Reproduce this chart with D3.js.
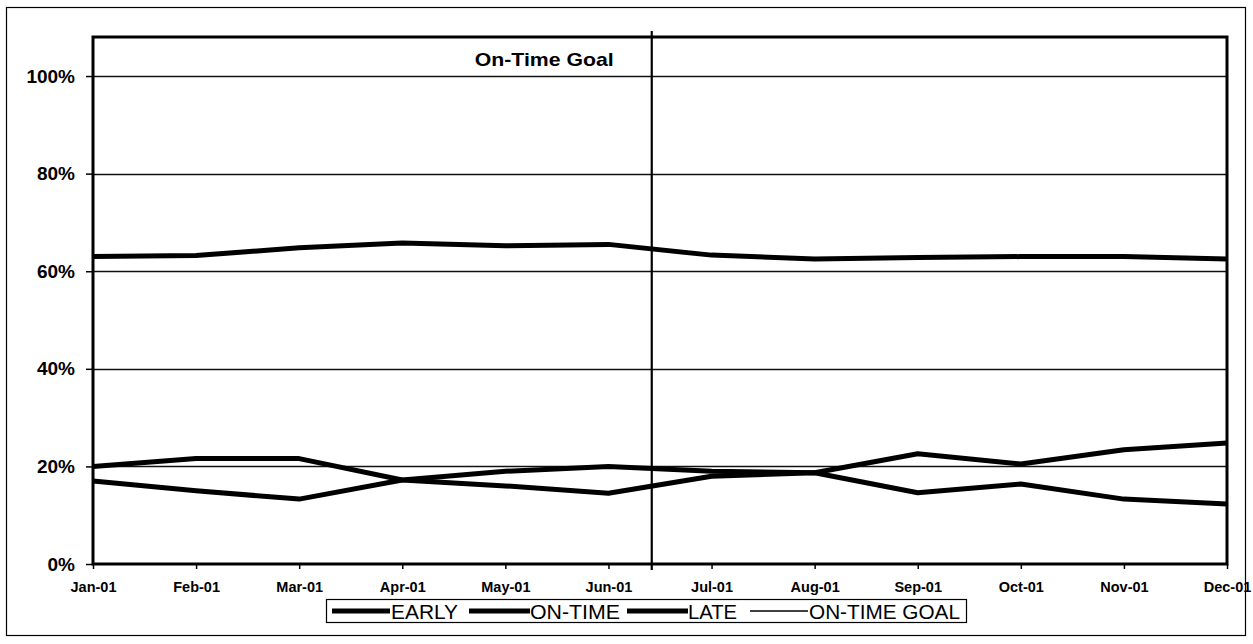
<!DOCTYPE html>
<html>
<head>
<meta charset="utf-8">
<script src="https://cdn.jsdelivr.net/npm/d3@7"></script>
<style>
  html, body { margin: 0; padding: 0; background: #fff; }
  svg { display: block; font-family: Arial, "Liberation Sans", sans-serif; }
</style>
</head>
<body>
<svg id="chart" width="1253" height="644"></svg>
<script>
// Monthly delivery mix, 2001
const months = ["Jan-01","Feb-01","Mar-01","Apr-01","May-01","Jun-01","Jul-01","Aug-01","Sep-01","Oct-01","Nov-01","Dec-01"];
const early  = [0.170, 0.150, 0.133, 0.172, 0.190, 0.200, 0.190, 0.187, 0.226, 0.205, 0.234, 0.248];
const onTime = [0.630, 0.632, 0.648, 0.658, 0.652, 0.655, 0.633, 0.625, 0.628, 0.630, 0.630, 0.625];
const late   = [0.200, 0.216, 0.216, 0.172, 0.160, 0.145, 0.180, 0.187, 0.146, 0.164, 0.133, 0.123];
// Goal marker sits part-way between Jun and Jul (month index)
const goalPosition = 5.42;
const goalLabel = "On-Time Goal";
const yTicks = [0, 0.2, 0.4, 0.6, 0.8, 1.0];
const legendItems = [
  { name: "EARLY", width: 5 },
  { name: "ON-TIME", width: 5 },
  { name: "LATE", width: 5 },
  { name: "ON-TIME GOAL", width: 1.5 }
];

const svg = d3.select("#chart");
const plot = { left: 93, right: 1227, top: 37, bottom: 564 };

const x = d3.scaleLinear().domain([0, months.length - 1]).range([plot.left, plot.right]);
const y = d3.scaleLinear().domain([0, 1.08]).range([plot.bottom, plot.top]);

// outer chart border
svg.append("rect")
  .attr("x", 6.5).attr("y", 7.5).attr("width", 1239).attr("height", 628)
  .attr("fill", "none").attr("stroke", "#000").attr("stroke-width", 1.2);

// horizontal gridlines
svg.append("g")
  .selectAll("line")
  .data(yTicks.filter(d => d > 0))
  .join("line")
  .attr("x1", plot.left).attr("x2", plot.right)
  .attr("y1", d => Math.round(y(d)) + 0.5).attr("y2", d => Math.round(y(d)) + 0.5)
  .attr("stroke", "#111").attr("stroke-width", 1.3);

// y axis
const yAxis = svg.append("g")
  .attr("transform", `translate(${plot.left},0)`)
  .call(d3.axisLeft(y).tickValues(yTicks).tickFormat(d3.format(".0%")).tickSize(7).tickSizeOuter(0));
yAxis.select(".domain").remove();
yAxis.selectAll(".tick line").attr("stroke", "#000").attr("stroke-width", 1.5);
yAxis.selectAll(".tick text")
  .attr("x", -18)
  .attr("font-size", 19).attr("font-weight", "bold").attr("fill", "#000")
  .attr("font-family", "Arial, 'Liberation Sans', sans-serif");

// x axis
const xAxis = svg.append("g")
  .attr("transform", `translate(0,${plot.bottom})`)
  .call(d3.axisBottom(x).tickValues(d3.range(months.length)).tickFormat(i => months[i]).tickSize(5).tickSizeOuter(0));
xAxis.select(".domain").remove();
xAxis.selectAll(".tick line").attr("stroke", "#000").attr("stroke-width", 1.5);
xAxis.selectAll(".tick text")
  .attr("y", 18)
  .attr("font-size", 14.5).attr("font-weight", "bold").attr("fill", "#000")
  .attr("font-family", "Arial, 'Liberation Sans', sans-serif");

// plot frame
svg.append("rect")
  .attr("x", plot.left).attr("y", plot.top)
  .attr("width", plot.right - plot.left).attr("height", plot.bottom - plot.top)
  .attr("fill", "none").attr("stroke", "#000").attr("stroke-width", 3);

// series lines
const line = d3.line().x((d, i) => x(i)).y(d => y(d));
[early, onTime, late].forEach(series => {
  svg.append("path")
    .datum(series)
    .attr("d", line)
    .attr("fill", "none").attr("stroke", "#000")
    .attr("stroke-width", 5).attr("stroke-linejoin", "round").attr("stroke-linecap", "butt");
});

// on-time goal marker
svg.append("line")
  .attr("x1", x(goalPosition)).attr("x2", x(goalPosition))
  .attr("y1", plot.top - 6).attr("y2", plot.bottom + 6)
  .attr("stroke", "#000").attr("stroke-width", 2.2);
svg.append("text")
  .attr("x", x(goalPosition) - 38).attr("y", 66)
  .attr("text-anchor", "end")
  .attr("font-size", 19).attr("font-weight", "bold")
  .attr("textLength", 139).attr("lengthAdjust", "spacingAndGlyphs")
  .text(goalLabel);

// legend
const legend = svg.append("g");
legend.append("rect")
  .attr("x", 326.5).attr("y", 599.5).attr("width", 640).attr("height", 23)
  .attr("fill", "#fff").attr("stroke", "#000").attr("stroke-width", 1.2);
const legendLayout = [
  { lx: 332, le: 390, tx: 391, tw: 67 },
  { lx: 469, le: 530, tx: 530, tw: 90 },
  { lx: 627, le: 688, tx: 688, tw: 49 },
  { lx: 750, le: 808, tx: 809, tw: 151 }
];
legendItems.forEach((item, i) => {
  const p = legendLayout[i];
  legend.append("line")
    .attr("x1", p.lx).attr("x2", p.le).attr("y1", 611).attr("y2", 611)
    .attr("stroke", "#000").attr("stroke-width", item.width);
  legend.append("text")
    .attr("x", p.tx).attr("y", 618.5)
    .attr("font-size", 20.5)
    .attr("textLength", p.tw).attr("lengthAdjust", "spacingAndGlyphs")
    .text(item.name);
});
</script>
</body>
</html>
